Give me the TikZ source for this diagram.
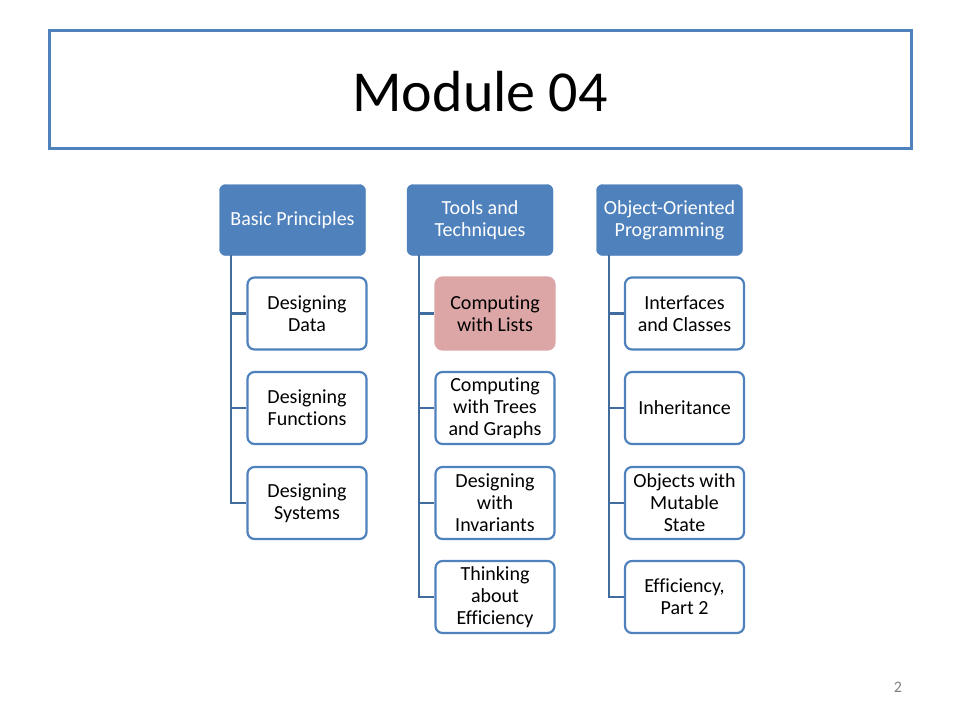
\documentclass[tikz,border=0pt]{standalone}
\usepackage{fontspec}
\setmainfont{Carlito}[Ligatures=NoCommon]
\usepackage{tikz}
\definecolor{slideblue}{RGB}{79,129,189}
\definecolor{linkblue}{RGB}{65,108,160}
\definecolor{listred}{RGB}{220,166,166}

\begin{document}
\begin{tikzpicture}[x=1pt,y=-1pt,
  head/.style={fill=slideblue,draw=slideblue,rounded corners=6pt,text=white,align=center,
    minimum width=146pt,minimum height=71pt,font=\fontsize{20}{22}\selectfont},
  topic/.style={fill=white,draw=slideblue,line width=2.2pt,rounded corners=7pt,align=center,
    minimum width=119pt,minimum height=72pt,font=\fontsize{20}{22}\selectfont},
  link/.style={draw=linkblue,line width=2.6pt}]
	\useasboundingbox (0,0) rectangle (960,720);
	\node[draw=slideblue,line width=3pt,minimum width=862pt,minimum height=118pt,text height=46pt,
	  font=\fontsize{58}{66}\selectfont] (title) at (480,89) {Module 04};
	\node[head] (bp) at (292.5,220) {Basic Principles};
	\node[head] (tt) at (480,220) {Tools and\\Techniques};
	\node[head] (oop) at (669.5,220) {Object-Oriented\\Programming};
	\coordinate (bpx) at (231,255);
	\coordinate (ttx) at (419,255);
	\coordinate (oopx) at (609,255);
	\node[topic] (bp1) at (307,313.5) {Designing\\Data};
	\node[topic] (bp2) at (307,408) {Designing\\Functions};
	\node[topic] (bp3) at (307,503) {Designing\\Systems};
	\node[topic,fill=listred,draw=listred] (tt1) at (495,313.5) {Computing\\with Lists};
	\node[topic] (tt2) at (495,408) {Computing\\with Trees\\and Graphs};
	\node[topic] (tt3) at (495,503) {Designing\\with\\Invariants};
	\node[topic] (tt4) at (495,597) {Thinking\\about\\Efficiency};
	\node[topic] (oop1) at (684.5,313.5) {Interfaces\\and Classes};
	\node[topic] (oop2) at (684.5,408) {Inheritance};
	\node[topic] (oop3) at (684.5,503) {Objects with\\Mutable\\State};
	\node[topic] (oop4) at (684.5,597) {Efficiency,\\Part 2};
	\foreach \c/\n in {bp/3,tt/4,oop/4}{
		\foreach \r in {1,...,\n}{
			\draw[link] (\c x) |- (\c\r.west);
		}
	}
	\node[text=gray,font=\fontsize{16}{18}\selectfont] (page) at (898,687) {2};
\end{tikzpicture}
\end{document}
